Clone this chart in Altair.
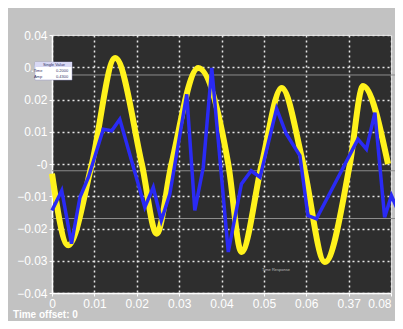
import altair as alt
import pandas as pd

# Yellow (reference) trace: time [s], amplitude
yellow_t = [0.0, 0.0038, 0.0094, 0.0149, 0.0212, 0.0247, 0.0282, 0.0345, 0.0416,
            0.0447, 0.0495, 0.0542, 0.0593, 0.0644, 0.0703, 0.0734, 0.0793]
yellow_v = [-0.003, -0.0252, 0.0, 0.0329, 0.0, -0.0216, 0.0, 0.0298, 0.0,
            -0.0273, 0.0, 0.0236, 0.0, -0.0304, 0.0, 0.0242, 0.0]

# Blue (measured) trace
blue_t = [0.0, 0.0023, 0.0046, 0.0066, 0.0086, 0.0121, 0.0141, 0.0160, 0.0219,
          0.0239, 0.0258, 0.0278, 0.0318, 0.0337, 0.0357, 0.0377, 0.0416, 0.0447,
          0.0470, 0.0491, 0.0530, 0.0553, 0.0585, 0.0604, 0.0624, 0.0667, 0.0722,
          0.0742, 0.0762, 0.0785, 0.0801, 0.0825]
blue_v = [-0.0144, -0.0082, -0.0247, -0.0103, -0.0041, 0.0108, 0.0103, 0.0139, -0.0134,
          -0.0072, -0.0175, -0.0093, 0.0216, -0.0144, -0.0010, 0.0298, -0.0273, -0.0062,
          -0.0021, -0.0041, 0.0172, 0.0093, 0.0026, -0.0160, -0.0170, -0.0062, 0.0077,
          0.0046, 0.0159, -0.0165, -0.0098, -0.0170]

x_ticks = [0, 0.01, 0.02, 0.03, 0.04, 0.05, 0.06, 0.07, 0.08]
y_ticks = [-0.04, -0.03, -0.02, -0.01, 0, 0.01, 0.02, 0.03, 0.04]
overlay_levels = [0.0276, -0.0021, -0.0169]

yellow = pd.DataFrame({"t": yellow_t, "v": yellow_v})
blue = pd.DataFrame({"t": blue_t, "v": blue_v})
levels = pd.DataFrame({"v": overlay_levels})

xscale = alt.Scale(domain=[0, 0.08], nice=False, zero=False)
yscale = alt.Scale(domain=[-0.04, 0.04], nice=False, zero=False)

common = dict(title=None, grid=True, gridDash=[2, 3], gridColor="#e6e6e6",
              gridWidth=1.5, domainColor="#ffffff", domainWidth=1.5, tickColor="#ffffff",
              tickSize=3, labelColor="#ffffff", labelFont="Liberation Sans", labelFontSize=12,
              labelPadding=2, labelFlush=False, labelOverlap=False, zindex=0)
xaxis = alt.Axis(values=x_ticks, **common,
                 labelAlign={"condition": {"test": "datum.value > 0.079", "value": "right"},
                             "value": "center"},
                 labelExpr="abs(datum.value-0.07)<1e-9 ? '0.37' : (datum.value==0 ? '0' : format(datum.value, '.2f'))")
yaxis = alt.Axis(values=y_ticks, **common,
                 labelExpr="datum.value==0 ? '-0' : format(datum.value, '.2f')")

lvl = alt.Chart(levels).mark_rule(color="#8c8c8c", strokeWidth=1, clip=False).encode(
    y=alt.Y("v:Q", scale=yscale, axis=yaxis), x=alt.value(0), x2=alt.value(351))

yl = alt.Chart(yellow).mark_line(color="#fff21c", strokeWidth=6, interpolate="monotone").encode(
    x=alt.X("t:Q", scale=xscale, axis=xaxis), y=alt.Y("v:Q", scale=yscale, axis=yaxis))

bl = alt.Chart(blue).mark_line(color="#2a2af5", strokeWidth=3.5, clip=False).encode(
    x=alt.X("t:Q", scale=xscale, axis=xaxis), y=alt.Y("v:Q", scale=yscale, axis=yaxis))

# small "Single Value" annotation box
box = alt.Chart(pd.DataFrame({"a": [0]})).mark_rect(color="#ffffff", stroke="#9999cc", strokeWidth=0.5).encode(
    x=alt.value(-17), x2=alt.value(20), y=alt.value(27), y2=alt.value(45))
box_head = alt.Chart(pd.DataFrame({"a": [0]})).mark_rect(color="#d8d8f4").encode(
    x=alt.value(-17), x2=alt.value(20), y=alt.value(27), y2=alt.value(32))
box_lbl = ["Single Value", "Time", "0.2000", "Amp", "0.4300"]
box_txt = alt.layer(*[
    alt.Chart(pd.DataFrame({"a": [0]})).mark_text(
        text=s, fontSize=4, font="Liberation Sans", color="#333366").encode(
        x=alt.value(px), y=alt.value(py))
    for s, px, py in zip(box_lbl, [2, -14, 10, -14, 10], [29.5, 36, 36, 41.5, 41.5])])

resp = alt.Chart(pd.DataFrame({"a": [0]})).mark_text(
    text="Time Response", fontSize=4, font="Liberation Sans", color="#bbbbbb").encode(
    x=alt.value(224), y=alt.value(235))

offs = alt.Chart(pd.DataFrame({"a": [0]})).mark_text(
    text="Time offset:    0", fontSize=10, font="Liberation Sans", color="#ffffff",
    align="left", baseline="bottom", fontWeight="bold").encode(
    x=alt.value(-39), y=alt.value(285))

chart = alt.layer(lvl, yl, bl, box, box_head, box_txt, resp, offs).properties(
    width=339, height=258,
    padding={"left": 44, "top": 27, "right": 4, "bottom": 28},
    autosize=alt.AutoSizeParams(type="none"),
    background="#c2c2c2",
).configure_view(fill="#2e2e2e", stroke="#dcdcdc", strokeWidth=1
).configure_axis(labelOverlap=False)

chart.save("out.html", embed_options={"renderer": "svg", "actions": False})
